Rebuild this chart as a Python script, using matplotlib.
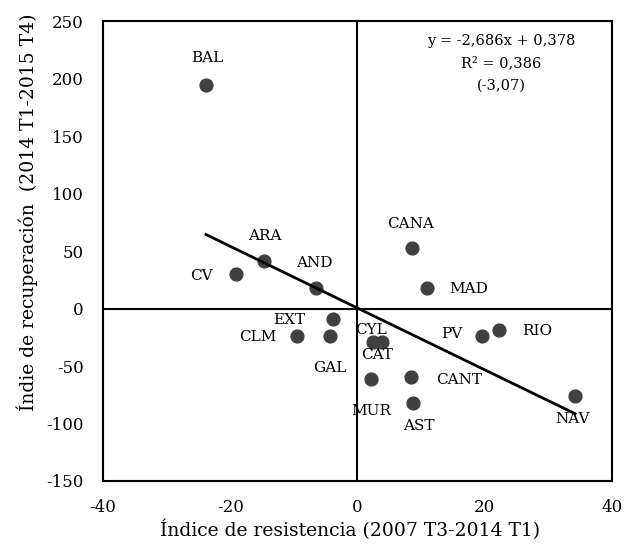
import matplotlib.pyplot as plt
import numpy as np

# Datos
regiones = ["BAL", "ARA", "AND", "CV", "CANA", "MAD", "EXT", "CLM", "GAL",
            "CYL", "CAT", "MUR", "CANT", "AST", "PV", "RIO", "NAV"]
resistencia = [-23.8, -14.7, -6.5, -19.1, 8.6, 10.9, -3.9, -9.5, -4.3,
               2.4, 3.8, 2.1, 8.4, 8.7, 19.6, 22.2, 34.2]
recuperacion = [194.8, 40.9, 18.0, 29.6, 53.0, 18.0, -8.7, -23.5, -24.3,
                -28.7, -28.7, -61.7, -60.0, -82.6, -24.3, -18.3, -75.7]
# desplazamiento de etiquetas (en puntos)
offsets = {"BAL": (1, 19), "ARA": (1, 18), "AND": (-1, 18), "CV": (-25, -1),
           "CANA": (-1, 17), "MAD": (30, -1), "EXT": (-31, -1), "CLM": (-28, -1),
           "GAL": (0, -23), "CYL": (-1, 8), "CAT": (-3, -10), "MUR": (0, -23),
           "CANT": (35, -2), "AST": (4, -16), "PV": (-22, 2), "RIO": (28, -1),
           "NAV": (-2, -17)}

pendiente = -2.686
intercepto = 0.378

plt.rcParams['font.family'] = ['DejaVu Serif']
plt.rcParams['axes.unicode_minus'] = False

fig = plt.figure(figsize=(6.26, 5.54), dpi=100)
ax = fig.add_axes([0.1645, 0.1318, 0.8131, 0.8302])

ax.axhline(0, color='black', lw=1.5, zorder=1)
ax.axvline(0, color='black', lw=1.5, zorder=1)

ax.scatter(resistencia, recuperacion, s=85, color='#404040', zorder=3)

xs = np.array([min(resistencia), max(resistencia)])
ax.plot(xs, pendiente * xs + intercepto, color='black', lw=2, zorder=4)

for nombre, x, y in zip(regiones, resistencia, recuperacion):
    ax.annotate(nombre, (x, y), xytext=offsets[nombre], textcoords='offset points',
                ha='center', va='center', fontsize=11, zorder=5)

ax.text(0.783, 0.972, "y = -2,686x + 0,378\nR² = 0,386\n(-3,07)", transform=ax.transAxes,
        ha='center', va='top', fontsize=10.5, linespacing=1.75)

ax.set_xlim(-40, 40)
ax.set_ylim(-150, 250)
ax.set_xticks([-40, -20, 0, 20, 40])
ax.set_yticks(np.arange(-150, 251, 50))
ax.tick_params(length=0, labelsize=12)
ax.tick_params(axis='x', pad=13)
ax.tick_params(axis='y', pad=14)
for s in ax.spines.values():
    s.set_linewidth(1.5)

ax.set_xlabel("Índice de resistencia (2007 T3-2014 T1)", fontsize=13.5)
ax.set_ylabel("Índie de recuperación  (2014 T1-2015 T4)", fontsize=13.5)
ax.xaxis.set_label_coords(0.485, -0.083)
ax.yaxis.set_label_coords(-0.128, 0.585)

fig.savefig("out.png", dpi=100)
